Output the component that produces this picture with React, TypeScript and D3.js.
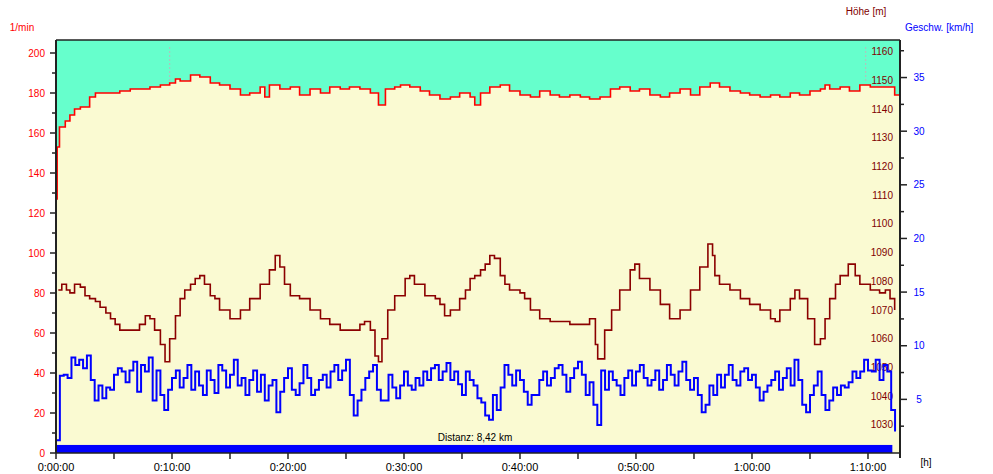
import React from "react";
import * as d3 from "d3";

// ---------- data ----------
const hrTime = [0, 0.1, 0.3, 0.8, 1.2, 1.6, 2.1, 2.9, 3.4, 3.8, 4.7, 5.5, 6.4, 7.2, 8.1, 9.0, 9.8, 10.3, 10.7, 11.6, 12.4, 13.3, 14.1, 15.0, 15.9, 16.7, 17.6, 18.0, 18.4, 19.3, 20.2, 21.0, 21.9, 22.8, 23.6, 24.5, 25.3, 26.2, 27.1, 27.8, 28.4, 29.2, 29.7, 30.5, 31.4, 32.2, 33.1, 34.0, 34.8, 35.7, 36.1, 36.6, 37.4, 38.3, 39.1, 40.0, 40.9, 41.7, 42.6, 43.4, 44.3, 45.2, 46.0, 46.9, 47.8, 48.6, 49.5, 50.3, 51.2, 52.1, 52.9, 53.8, 54.7, 55.5, 56.4, 57.2, 58.1, 59.0, 59.8, 60.7, 61.6, 62.4, 63.3, 64.1, 65.0, 65.9, 66.3, 66.7, 67.6, 68.4, 69.3, 70.2, 71.0, 71.9, 72.3];
const hrValues = [127, 153, 163, 166, 169, 172, 173, 178, 180, 180, 180, 181, 182, 182, 183, 184, 185, 187, 186, 189, 188, 185, 184, 182, 179, 180, 183, 178, 184, 182, 183, 179, 182, 180, 183, 182, 183, 182, 180, 174, 182, 183, 184, 183, 181, 179, 177, 178, 180, 178, 174, 180, 183, 184, 181, 179, 178, 181, 179, 178, 179, 178, 177, 178, 182, 183, 181, 182, 179, 178, 180, 182, 179, 183, 185, 183, 181, 180, 179, 178, 179, 178, 180, 179, 181, 182, 184, 182, 183, 181, 184, 183, 183, 183, 179];

const altTime = [0.2, 0.5, 0.9, 1.2, 1.6, 2.1, 2.5, 2.9, 3.4, 3.8, 4.3, 4.7, 5.1, 5.5, 6.4, 7.2, 7.7, 8.1, 8.5, 9.0, 9.4, 9.8, 10.3, 10.7, 11.1, 11.6, 12.0, 12.4, 12.8, 13.3, 13.7, 14.1, 15.0, 15.9, 16.7, 17.6, 18.4, 18.9, 19.3, 19.7, 20.2, 21.0, 21.9, 22.8, 23.6, 24.5, 25.3, 26.2, 26.6, 27.1, 27.5, 27.8, 28.1, 28.6, 29.2, 30.1, 30.5, 30.9, 31.8, 32.7, 33.1, 33.5, 34.0, 34.8, 35.3, 35.7, 36.1, 36.6, 37.0, 37.4, 37.8, 38.3, 38.7, 39.1, 39.6, 40.0, 40.4, 40.9, 41.7, 42.6, 43.4, 44.3, 45.2, 46.0, 46.5, 46.7, 47.3, 47.9, 48.6, 49.5, 49.9, 50.3, 51.2, 52.1, 52.9, 53.8, 54.7, 55.5, 56.2, 56.6, 56.8, 57.2, 58.1, 59.0, 59.8, 60.7, 61.6, 62.0, 62.4, 63.3, 63.7, 64.1, 64.8, 65.4, 65.9, 66.3, 66.7, 67.2, 67.6, 68.3, 68.9, 69.3, 70.2, 71.0, 71.5, 71.9, 72.3];
const altValues = [1077, 1079, 1077, 1076, 1079, 1078, 1075, 1074, 1073, 1071, 1069, 1067, 1065, 1063, 1063, 1065, 1068, 1067, 1063, 1058, 1052, 1060, 1068, 1074, 1077, 1079, 1081, 1082, 1079, 1075, 1074, 1070, 1067, 1070, 1074, 1079, 1084, 1089, 1085, 1079, 1075, 1074, 1070, 1067, 1065, 1063, 1063, 1065, 1066, 1063, 1054, 1052, 1060, 1070, 1075, 1081, 1082, 1079, 1075, 1074, 1072, 1068, 1070, 1074, 1077, 1081, 1082, 1084, 1086, 1089, 1088, 1082, 1079, 1077, 1077, 1076, 1074, 1070, 1067, 1066, 1066, 1065, 1065, 1067, 1058, 1053, 1063, 1070, 1077, 1084, 1086, 1081, 1077, 1072, 1067, 1070, 1077, 1085, 1093, 1089, 1082, 1079, 1077, 1074, 1072, 1070, 1067, 1066, 1070, 1074, 1077, 1074, 1067, 1058, 1060, 1067, 1074, 1079, 1082, 1086, 1082, 1079, 1077, 1076, 1077, 1074, 1070];

// speed samples every 20 s (1/3 min)
const speedStepMin = 1 / 3;
const speedValues = [1.2, 7.2, 7.3, 7.0, 8.9, 8.2, 8.7, 7.9, 9.1, 6.8,
  4.9, 6.3, 5.1, 6.1, 5.9, 7.3, 7.9, 7.6, 6.6, 7.7,
  8.5, 5.7, 8.2, 7.6, 8.9, 4.9, 7.7, 5.4, 4.0, 5.9,
  7.0, 7.7, 6.1, 7.0, 8.2, 5.9, 7.6, 6.3, 5.4, 7.7,
  6.8, 5.6, 8.2, 7.7, 6.1, 7.3, 8.7, 6.3, 7.0, 5.4,
  6.8, 7.7, 5.7, 7.3, 4.9, 6.3, 6.8, 3.8, 5.7, 7.0,
  7.9, 5.9, 5.4, 6.5, 8.2, 7.0, 5.4, 5.9, 6.8, 7.3,
  6.1, 7.6, 8.2, 6.8, 7.7, 8.7, 5.4, 3.5, 4.9, 5.9,
  7.0, 7.6, 8.2, 5.9, 4.9, 4.9, 7.3, 6.1, 5.1, 6.3,
  7.6, 6.3, 5.9, 7.0, 6.3, 7.6, 6.8, 7.9, 8.2, 6.8,
  7.6, 8.4, 6.8, 7.6, 6.4, 5.4, 7.6, 6.8, 6.3, 5.1,
  4.7, 3.5, 3.1, 5.4, 4.0, 6.1, 8.2, 7.3, 6.3, 7.7,
  6.8, 5.7, 4.5, 5.4, 5.4, 6.8, 7.6, 6.3, 7.0, 7.9,
  8.2, 7.3, 5.7, 7.0, 7.9, 8.5, 7.3, 5.4, 6.6, 4.5,
  2.6, 7.7, 5.9, 7.6, 6.8, 6.3, 5.4, 7.0, 7.7, 6.3,
  7.6, 8.2, 7.0, 6.3, 6.8, 7.7, 5.9, 6.8, 8.2, 7.3,
  6.3, 7.6, 8.5, 6.8, 5.9, 7.0, 5.4, 3.8, 4.5, 6.3,
  5.4, 7.3, 6.1, 7.3, 8.2, 6.8, 6.3, 7.6, 7.9, 6.8,
  7.3, 6.1, 4.9, 5.7, 6.3, 6.8, 7.6, 5.9, 7.0, 7.9,
  6.3, 8.7, 6.8, 4.5, 3.8, 5.4, 6.3, 7.6, 5.4, 4.0,
  4.9, 6.1, 5.4, 6.3, 6.1, 6.6, 7.6, 7.0, 7.6, 8.7,
  7.7, 7.6, 8.7, 6.8, 8.2, 7.6, 4.0, 2.0];

const xTicksMin = [0, 10, 20, 30, 40, 50, 60, 70];
const hrTicks = [0, 20, 40, 60, 80, 100, 120, 140, 160, 180, 200];
const altTicks = [1030, 1040, 1050, 1060, 1070, 1080, 1090, 1100, 1110, 1120, 1130, 1140, 1150, 1160];
const speedTicks = [5, 10, 15, 20, 25, 30, 35];
const lapTimes = [9.8, 69.8];

const totalMin = 72.76;
const segmentEndMin = 72.1;
const hrTitle = "1/min";
const altTitle = "Höhe [m]";
const speedTitle = "Geschw. [km/h]";
const timeTitle = "[h]";
const infoText = "Distanz: 8,42 km";

// ---------- layout ----------
const W = 993, H = 474;
const L = 56, R = 900, T = 40, B = 453;
const font = "Arial, 'Liberation Sans', sans-serif";

const fmtTime = (m: number) => {
  const h = Math.floor(m / 60);
  const mm = Math.floor(m % 60);
  return `${h}:${String(mm).padStart(2, "0")}:00`;
};

export default function App() {
  const x = d3.scaleLinear().domain([0, totalMin]).range([L, R]);
  const yHR = d3.scaleLinear().domain([0, 206.5]).range([B, T]);
  const yAlt = d3.scaleLinear().domain([1020.2, 1164.1]).range([B, T]);
  const ySpd = d3.scaleLinear().domain([0, 38.5]).range([B, T]);

  const hrData = hrTime.map((t, i) => [t, hrValues[i]] as [number, number]);
  const altData = altTime.map((t, i) => [t, altValues[i]] as [number, number]);
  const spdData = speedValues.map((v, i) => [i * speedStepMin, v] as [number, number]);

  const hrArea = d3.area<[number, number]>()
    .x(d => x(d[0])).y0(T).y1(d => yHR(d[1])).curve(d3.curveStepAfter);
  const hrLine = d3.line<[number, number]>()
    .x(d => x(d[0])).y(d => yHR(d[1])).curve(d3.curveStepAfter);
  const altLine = d3.line<[number, number]>()
    .x(d => x(d[0])).y(d => yAlt(d[1])).curve(d3.curveStepAfter);
  const spdLine = d3.line<[number, number]>()
    .x(d => x(d[0])).y(d => ySpd(d[1])).curve(d3.curveStepAfter);

  const hrFull = [...hrData, [totalMin, hrValues[hrValues.length - 1]] as [number, number]];

  const xMinor = d3.range(5, totalMin, 10);
  const hrMinor = d3.range(10, 206, 20);
  const spdMinor = d3.range(2.5, 38, 5);

  return (
    <div style={{ position: "absolute", left: 0, top: 0 }}>
      <svg width={W} height={H} style={{ display: "block", background: "#fff" }} fontFamily={font}>
        <rect x={L} y={T} width={R - L} height={B - T} fill="#fafad2" />
        <path d={hrArea(hrFull) || ""} fill="#66ffcc" />
        {/* lap markers */}
        {lapTimes.map((t, i) => (
          <line key={i} x1={x(t)} x2={x(t)} y1={yHR(203)} y2={yHR(186)} stroke="#bbbbbb" strokeWidth={1} strokeDasharray="2,2" />
        ))}
        {/* segment bar */}
        <rect x={L} y={ySpd(0.75)} width={x(segmentEndMin) - L} height={ySpd(0) - ySpd(0.75)} fill="#0000ff" />
        <text x={475} y={441} fontSize={10} textAnchor="middle" fill="#000">{infoText}</text>

        {/* inner altitude labels */}
        {altTicks.map(v => (
          <text key={v} x={R - 7} y={yAlt(v) + 3.5} fontSize={10} textAnchor="end" fill="#800000">{v}</text>
        ))}

        <path d={altLine(altData) || ""} fill="none" stroke="#8b0000" strokeWidth={1.6} />
        <path d={spdLine(spdData) || ""} fill="none" stroke="#0000ff" strokeWidth={2} />
        <path d={hrLine(hrFull) || ""} fill="none" stroke="#ff0000" strokeWidth={1.6} />

        {/* frame */}
        <line x1={L} x2={R} y1={T} y2={T} stroke="#222" strokeWidth={1.5} />
        <line x1={L} x2={L} y1={T} y2={B} stroke="#222" strokeWidth={2} />
        <line x1={R} x2={R} y1={T} y2={B + 5} stroke="#222" strokeWidth={2} />
        <line x1={L} x2={R} y1={B} y2={B} stroke="#222" strokeWidth={1.5} />

        {/* left HR axis */}
        {hrTicks.map(v => (
          <g key={v}>
            <line x1={L - 6} x2={L} y1={yHR(v)} y2={yHR(v)} stroke="#222" strokeWidth={1.5} />
            <text x={L - 11} y={yHR(v) + 3.5} fontSize={10} textAnchor="end" fill="#ff0000">{v}</text>
          </g>
        ))}
        {hrMinor.map(v => (
          <line key={v} x1={L - 4} x2={L} y1={yHR(v)} y2={yHR(v)} stroke="#222" strokeWidth={1.5} />
        ))}
        <text x={22} y={31} fontSize={10} textAnchor="middle" fill="#ff0000">{hrTitle}</text>

        {/* right speed axis */}
        {speedTicks.map(v => (
          <g key={v}>
            <line x1={R} x2={R + 7} y1={ySpd(v)} y2={ySpd(v)} stroke="#222" strokeWidth={1.5} />
            <text x={919} y={ySpd(v) + 3.5} fontSize={10} textAnchor="middle" fill="#0000ff">{v}</text>
          </g>
        ))}
        {spdMinor.map(v => (
          <line key={v} x1={R} x2={R + 4} y1={ySpd(v)} y2={ySpd(v)} stroke="#222" strokeWidth={1.5} />
        ))}
        <text x={905} y={31} fontSize={10} fill="#0000ff">{speedTitle}</text>
        <text x={866} y={15} fontSize={10} textAnchor="middle" fill="#800000">{altTitle}</text>

        {/* x axis */}
        {xTicksMin.map(v => (
          <g key={v}>
            <line x1={x(v)} x2={x(v)} y1={B} y2={B + 6} stroke="#222" strokeWidth={1.5} />
            <text x={x(v)} y={471} fontSize={11} textAnchor="middle" fill="#000">{fmtTime(v)}</text>
          </g>
        ))}
        {xMinor.map(v => (
          <line key={v} x1={x(v)} x2={x(v)} y1={B} y2={B + 6} stroke="#222" strokeWidth={1.5} />
        ))}
        <text x={926} y={466} fontSize={10} textAnchor="middle" fill="#000">{timeTitle}</text>
      </svg>
    </div>
  );
}
